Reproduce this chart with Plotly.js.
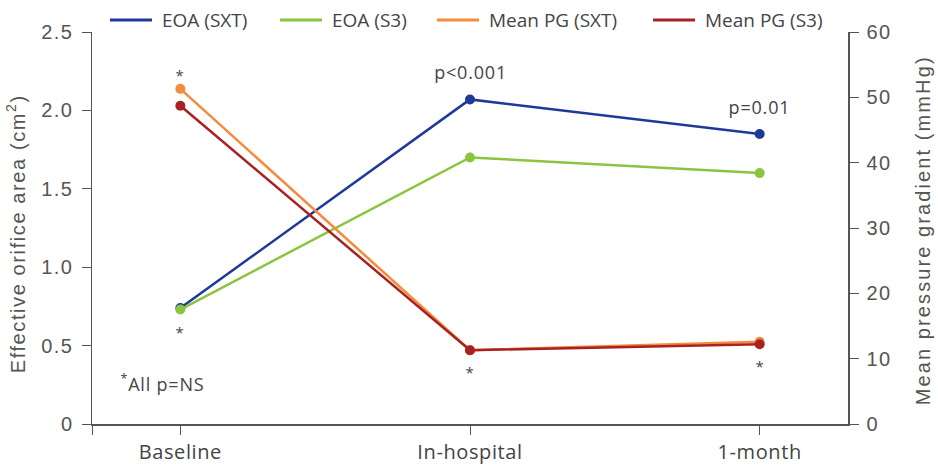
<!DOCTYPE html>
<html><head><meta charset="utf-8">
<script src="https://cdn.plot.ly/plotly-3.0.1.min.js"></script>
<style>
body{margin:0;background:#fff}#c{width:938px;height:465px}
#c .ytick text, #c .y2tick text{letter-spacing:1.5px}
#c .xtick text{letter-spacing:0.6px}
#c .annotation-text{letter-spacing:0.8px}
#c .annotation.ttl-l .annotation-text{letter-spacing:1.6px}
</style>
</head><body><div id="c"></div>
<script>
const categories = ["Baseline", "In-hospital", "1-month"];
const eoaSXT = [0.74, 2.07, 1.85];
const eoaS3 = [0.73, 1.70, 1.60];
const pgSXT = [51.3, 11.3, 12.6];
const pgS3 = [48.7, 11.3, 12.2];
const seriesNames = ["EOA (SXT)", "EOA (S3)", "Mean PG (SXT)", "Mean PG (S3)"];
const colors = ["#1d3a98", "#8cc43f", "#f68b3c", "#a82222"];
const yTickVals = [0, 0.5, 1, 1.5, 2, 2.5];
const yTickText = ["0", "0.5", "1.0", "1.5", "2.0", "2.5"];
const y2TickVals = [0, 10, 20, 30, 40, 50, 60];
const yTitle = "Effective orifice area (cm<sup>2</sup>)";
const y2Title = "Mean pressure gradient (mmHg)";

const xi = [0, 1, 2];
function tr(y, i, axis) {
  return {x: xi, y: y, name: seriesNames[i], yaxis: axis, type: "scatter", mode: "lines+markers",
    showlegend: false,
    line: {color: colors[i], width: 2.5}, marker: {color: colors[i], size: 10}};
}
const data = [tr(eoaSXT,0,"y"), tr(eoaS3,1,"y"), tr(pgSXT,2,"y2"), tr(pgS3,3,"y2")];

const tickFont = {family: "Liberation Sans, Arial, sans-serif", size: 20, color: "#555"};
const labFont = {family: "Open Sans, Noto Sans, sans-serif", size: 20, color: "#444"};
const annFont = {family: "Open Sans, Noto Sans, sans-serif", size: 18, color: "#444"};
const starFont = {family: "Open Sans, Noto Sans, sans-serif", size: 15, color: "#444"};
const titleFont = {family: "Liberation Sans, Arial, sans-serif", size: 20, color: "#555"};
const legFont = {family: "Open Sans, Noto Sans, sans-serif", size: 19, color: "#444"};

// manual legend layout (paper coords)
const legLineX0 = [0.0238, 0.2487, 0.4563, 0.7421];
const legLineLen = 0.0556;
const legTextGap = 0.0105;
const legY = 1.0306;

const shapes = seriesNames.map((n, i) => ({type: "line", xref: "paper", yref: "paper",
  x0: legLineX0[i], x1: legLineX0[i] + legLineLen, y0: legY, y1: legY,
  line: {color: colors[i], width: 3}}));
const legendTexts = seriesNames.map((n, i) => ({xref: "paper", yref: "paper",
  x: legLineX0[i] + legLineLen + legTextGap, y: legY, xanchor: "left", yanchor: "middle",
  text: n, showarrow: false, font: legFont}));

const layout = {
  width: 938, height: 465,
  margin: {l: 92, r: 90, t: 32, b: 41, autoexpand: false},
  paper_bgcolor: "#fff", plot_bgcolor: "#fff",
  showlegend: false,
  xaxis: {range: [-0.305, 2.305], tickvals: [-0.305].concat(xi), ticktext: [""].concat(categories),
    showgrid: false, zeroline: false,
    showline: true, linecolor: "#555", linewidth: 1.5, ticks: "outside", ticklen: 9, tickcolor: "#555",
    tickfont: labFont},
  yaxis: {range: [0, 2.5], tickvals: yTickVals, ticktext: yTickText,
    showgrid: false, zeroline: false, showline: true, linecolor: "#555", linewidth: 1.5,
    ticks: "outside", ticklen: 9, tickcolor: "#555", tickfont: tickFont, ticklabelstandoff: 4},
  yaxis2: {range: [0, 60], tickvals: y2TickVals, overlaying: "y", side: "right",
    showgrid: false, zeroline: false, showline: true, linecolor: "#555", linewidth: 1.5,
    ticks: "outside", ticklen: 9, tickcolor: "#555", tickfont: tickFont, ticklabelstandoff: 4},
  shapes: shapes,
  annotations: [
    {xref: "paper", yref: "paper", x: -0.1005, y: 0.485, text: yTitle, textangle: -90,
      showarrow: false, font: titleFont, xanchor: "center", yanchor: "middle", name: "ttl-l"},
    {xref: "paper", yref: "paper", x: 1.099, y: 0.495, text: y2Title, textangle: -90,
      showarrow: false, font: titleFont, xanchor: "center", yanchor: "middle"},
    {x: 0, y: pgSXT[0], yref: "y2", text: "*", showarrow: false, yshift: 14, font: starFont},
    {x: 0, y: eoaS3[0], yref: "y", text: "*", showarrow: false, yshift: -22, font: starFont},
    {x: 1, y: pgS3[1], yref: "y2", text: "*", showarrow: false, yshift: -22, font: starFont},
    {x: 2, y: pgS3[2], yref: "y2", text: "*", showarrow: false, yshift: -22, font: starFont},
    {x: 1, y: eoaSXT[1], yref: "y", text: "p<0.001", showarrow: false, yshift: 27, font: annFont},
    {x: 2, y: eoaSXT[2], yref: "y", text: "p=0.01", showarrow: false, yshift: 27, font: annFont},
    {x: -0.06, y: 0.26, xref: "x", yref: "y", text: "<sup>*</sup>All p=NS", showarrow: false, font: annFont}
  ].concat(legendTexts)
};
Plotly.newPlot("c", data, layout, {displayModeBar: false, staticPlot: true}).then(() => {
  const anns = document.querySelectorAll("#c .annotation-text");
  anns[0].style.letterSpacing = "1.6px";
  anns[1].style.letterSpacing = "2.1px";
  for (let k = anns.length - seriesNames.length; k < anns.length; k++) anns[k].style.letterSpacing = "0px";
});
</script></body></html>
